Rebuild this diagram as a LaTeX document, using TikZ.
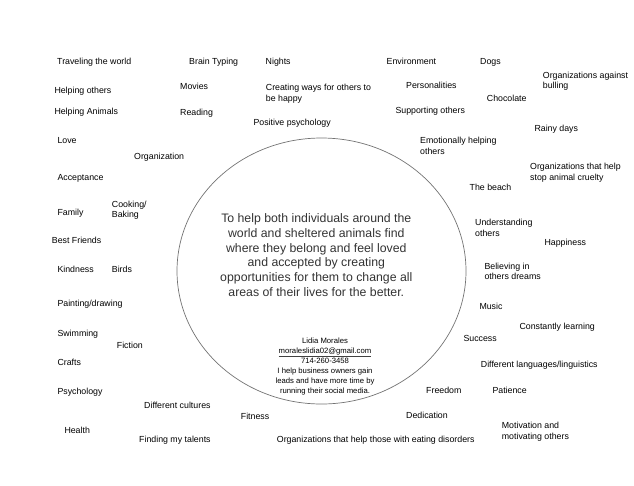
\documentclass[tikz,border=0pt]{standalone}
\usepackage{fontspec}
\setmainfont{Liberation Sans}
\newcommand{\mlines}[1]{\begin{tabular}[t]{@{}l@{}}#1\end{tabular}}
\newcommand{\mcent}[1]{\begin{tabular}[t]{@{}c@{}}#1\end{tabular}}
\begin{document}
\begin{tikzpicture}[x=1pt,y=-1pt,
  lbl/.style={anchor=base west, inner sep=0pt, font=\fontsize{8.8}{10.5}\selectfont, text=black},
  ring/.style={draw=black!55, line width=0.7pt}]
\useasboundingbox (0,0) rectangle (634,485);
\draw[ring] (321.5,271) ellipse [x radius=144.5pt, y radius=133pt];
\node[anchor=base, inner sep=0pt, font=\fontsize{12.3}{14.7}\selectfont, text=black!80] (mission) at (316.3,222.7)
  {\mcent{To help both individuals around the\\world and sheltered animals find\\where they belong and feel loved\\and accepted by creating\\opportunities for them to change all\\areas of their lives for the better.}};
\node[anchor=base, inner sep=0pt, font=\fontsize{7.7}{9.85}\selectfont, text=black] (contact) at (325,343.5)
  {\mcent{Lidia Morales\\{\color{black!75}\underline{\color{black}moraleslidia02@gmail.com}}\\714-260-3458\\I help business owners gain\\leads and have more time by\\running their social media.}};
\node[lbl] (l1) at (57,64.9) {Traveling the world};
\node[lbl] (l2) at (189,64.9) {Brain Typing};
\node[lbl] (l3) at (265.5,64.9) {Nights};
\node[lbl] (l4) at (386.5,64.9) {Environment};
\node[lbl] (l5) at (480,64.9) {Dogs};
\node[lbl] (l6) at (542.7,78.2) {\mlines{Organizations against\\bulling}};
\node[lbl] (l7) at (54.3,93.9) {Helping others};
\node[lbl] (l8) at (180,89.2) {Movies};
\node[lbl] (l9) at (265.7,90.9) {\mlines{Creating ways for others to\\be happy}};
\node[lbl] (l10) at (406,88.9) {Personalities};
\node[lbl] (l11) at (486.7,101.5) {Chocolate};
\node[lbl] (l12) at (54.3,114.2) {Helping Animals};
\node[lbl] (l13) at (180,115.9) {Reading};
\node[lbl] (l14) at (395.3,113.5) {Supporting others};
\node[lbl] (l15) at (253.3,125.9) {Positive psychology};
\node[lbl] (l16) at (534.3,131.5) {Rainy days};
\node[lbl] (l17) at (57.3,143.9) {Love};
\node[lbl] (l18) at (420,143.9) {\mlines{Emotionally helping\\others}};
\node[lbl] (l19) at (134,159.2) {Organization};
\node[lbl] (l20) at (530,169.9) {\mlines{Organizations that help\\stop animal cruelty}};
\node[lbl] (l21) at (57.3,180.5) {Acceptance};
\node[lbl] (l22) at (469.5,190.5) {The beach};
\node[lbl] (l23) at (111.7,207.2) {\mlines{Cooking/\\Baking}};
\node[lbl] (l24) at (57.3,215.9) {Family};
\node[lbl] (l25) at (475,225.9) {\mlines{Understanding\\others}};
\node[lbl] (l26) at (51.7,243.2) {Best Friends};
\node[lbl] (l27) at (544.3,245.5) {Happiness};
\node[lbl] (l28) at (57.3,272.5) {Kindness};
\node[lbl] (l29) at (111.7,272.5) {Birds};
\node[lbl] (l30) at (484.3,269.2) {\mlines{Believing in\\others dreams}};
\node[lbl] (l31) at (57.3,306.5) {Painting/drawing};
\node[lbl] (l32) at (479.3,309.2) {Music};
\node[lbl] (l33) at (519.3,329.2) {Constantly learning};
\node[lbl] (l34) at (57.3,336.5) {Swimming};
\node[lbl] (l35) at (463.3,341.5) {Success};
\node[lbl] (l36) at (116.7,348.2) {Fiction};
\node[lbl] (l37) at (57.3,365.2) {Crafts};
\node[lbl] (l38) at (480.7,367.5) {Different languages/linguistics};
\node[lbl] (l39) at (426,393.9) {Freedom};
\node[lbl] (l40) at (492.3,393.2) {Patience};
\node[lbl] (l41) at (57.3,394.9) {Psychology};
\node[lbl] (l42) at (144,408.2) {Different cultures};
\node[lbl] (l43) at (240.7,419.9) {Fitness};
\node[lbl] (l44) at (406,418.9) {Dedication};
\node[lbl] (l45) at (501.7,428.5) {\mlines{Motivation and\\motivating others}};
\node[lbl] (l46) at (64.3,433.9) {Health};
\node[lbl] (l47) at (139,442.2) {Finding my talents};
\node[lbl] (l48) at (276.7,442.2) {Organizations that help those with eating disorders};
\end{tikzpicture}
\end{document}
